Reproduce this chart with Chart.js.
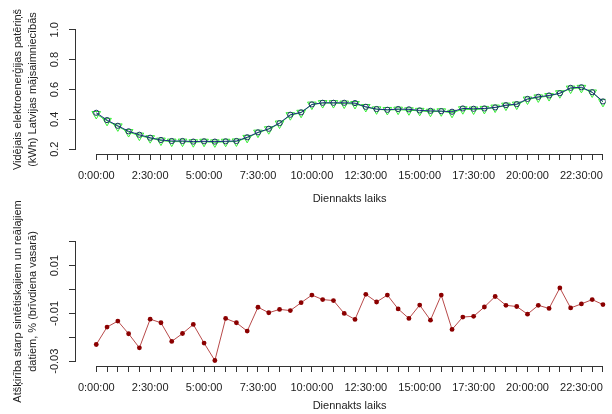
<!DOCTYPE html>
<html lang="lv">
<head>
<meta charset="utf-8">
<title>Elektroenerģijas patēriņš</title>
<script src="https://cdn.jsdelivr.net/npm/chart.js@4.4.1/dist/chart.umd.min.js"></script>
<style>
    html, body { margin: 0; padding: 0; background: #fff; }
    #wrap { position: relative; width: 612px; height: 414px; overflow: hidden; }
    canvas { position: absolute; left: 0; }
    #top-chart { top: 0; }
    #bottom-chart { top: 180px; }
</style>
</head>
<body>
<div id="wrap">
    <canvas id="top-chart" width="612" height="207"></canvas>
    <canvas id="bottom-chart" width="612" height="234"></canvas>
</div>
<script>
// Half-hour steps of the day
const times = [
    '0:00:00', '0:30:00', '1:00:00', '1:30:00', '2:00:00', '2:30:00',
    '3:00:00', '3:30:00', '4:00:00', '4:30:00', '5:00:00', '5:30:00',
    '6:00:00', '6:30:00', '7:00:00', '7:30:00', '8:00:00', '8:30:00',
    '9:00:00', '9:30:00', '10:00:00', '10:30:00', '11:00:00', '11:30:00',
    '12:00:00', '12:30:00', '13:00:00', '13:30:00', '14:00:00', '14:30:00',
    '15:00:00', '15:30:00', '16:00:00', '16:30:00', '17:00:00', '17:30:00',
    '18:00:00', '18:30:00', '19:00:00', '19:30:00', '20:00:00', '20:30:00',
    '21:00:00', '21:30:00', '22:00:00', '22:30:00', '23:00:00', '23:30:00'
];

// Real average consumption (kWh)
const realValues = [
    0.444, 0.395, 0.357, 0.320, 0.297, 0.277, 0.262, 0.255, 0.255, 0.251,
    0.253, 0.251, 0.253, 0.255, 0.280, 0.313, 0.337, 0.375, 0.431, 0.447,
    0.500, 0.511, 0.511, 0.511, 0.509, 0.484, 0.469, 0.464, 0.469, 0.467,
    0.460, 0.457, 0.455, 0.451, 0.473, 0.471, 0.473, 0.480, 0.495, 0.502,
    0.537, 0.551, 0.560, 0.575, 0.611, 0.615, 0.582, 0.520
];

// Synthetic average consumption (kWh)
const syntheticValues = [
    0.436, 0.390, 0.353, 0.315, 0.291, 0.274, 0.258, 0.251, 0.251, 0.247,
    0.250, 0.246, 0.250, 0.252, 0.276, 0.311, 0.334, 0.372, 0.428, 0.444,
    0.499, 0.509, 0.509, 0.506, 0.503, 0.483, 0.467, 0.463, 0.465, 0.461,
    0.457, 0.451, 0.454, 0.444, 0.468, 0.466, 0.470, 0.479, 0.492, 0.499,
    0.533, 0.547, 0.556, 0.575, 0.606, 0.611, 0.580, 0.517
];

// Difference between synthetic and real data
const diffValues = [
    -0.0230, -0.0157, -0.0132, -0.0185, -0.0244, -0.0124, -0.0139, -0.0217, -0.0184, -0.0146,
    -0.0224, -0.0297, -0.0121, -0.0139, -0.0174, -0.0074, -0.0097, -0.0083, -0.0088, -0.0055,
    -0.0023, -0.0042, -0.0046, -0.0100, -0.0125, -0.0020, -0.0052, -0.0023, -0.0081, -0.0121,
    -0.0065, -0.0128, -0.0023, -0.0167, -0.0115, -0.0112, -0.0073, -0.0029, -0.0066, -0.0071,
    -0.0103, -0.0066, -0.0079, 0.0007, -0.0077, -0.0060, -0.0042, -0.0063
];

// Axis ticks
const topTicks = [0.2, 0.4, 0.6, 0.8, 1.0];
const topTickLabels = ['0.2', '0.4', '0.6', '0.8', '1.0'];
const bottomTicks = [-0.03, -0.02, -0.01, 0, 0.01, 0.02];
const bottomTickLabels = ['-0.03', '', '-0.01', '', '0.01', ''];
const xTitle = 'Diennakts laiks';

const textColor = '#222';
const axisColor = '#333';
const fontFamily = "'Liberation Sans', Arial, sans-serif";
const font = { family: fontFamily, size: 11, lineHeight: 1.2 };
const titleFont = { family: fontFamily, size: 11, lineHeight: '15px' };

const toPoints = values => values.map((v, i) => ({ x: i, y: v }));

// R style axes: lines only from first to last tick, x title centred on the
// full plot region (which runs past the right edge of the picture)
const rAxes = {
    id: 'rAxes',
    afterDraw(chart) {
        const { ctx, chartArea, scales: { x, y } } = chart;
        const by = Math.round(chartArea.bottom) + 0.5;
        const lx = Math.round(chartArea.left) - 0.5;
        ctx.save();
        ctx.strokeStyle = axisColor;
        ctx.lineWidth = 1;
        ctx.beginPath();
        ctx.moveTo(x.getPixelForValue(x.ticks[0].value), by);
        ctx.lineTo(x.getPixelForValue(x.ticks[x.ticks.length - 1].value), by);
        ctx.moveTo(lx, y.getPixelForValue(y.ticks[0].value));
        ctx.lineTo(lx, y.getPixelForValue(y.ticks[y.ticks.length - 1].value));
        ctx.stroke();

        ctx.fillStyle = textColor;
        ctx.font = '11px ' + fontFamily;
        ctx.textAlign = 'center';
        ctx.textBaseline = 'middle';
        ctx.fillText(xTitle, x.getPixelForValue((times.length - 1) / 2), chart.height - 8);
        ctx.restore();
    }
};

function panelOptions(cfg) {
    return {
        responsive: false,
        animation: false,
        layout: { padding: { top: cfg.padTop, left: 0, right: 0, bottom: 0 } },
        plugins: { legend: { display: false }, tooltip: { enabled: false } },
        scales: {
            x: {
                type: 'linear',
                min: -1.88,
                max: 47.25,
                afterBuildTicks: axis => { axis.ticks = times.map((_, i) => ({ value: i })); },
                afterFit: axis => { axis.height = cfg.xHeight; },
                grid: { drawOnChartArea: false, tickLength: 6, color: axisColor },
                border: { display: false },
                ticks: {
                    autoSkip: false, minRotation: 0, maxRotation: 0, padding: 9,
                    color: textColor, font,
                    callback: v => (v % 5 === 0 ? times[v] : '')
                }
            },
            y: {
                min: cfg.yMin,
                max: cfg.yMax,
                afterBuildTicks: axis => { axis.ticks = cfg.ticks.map(v => ({ value: v })); },
                afterFit: axis => { axis.width = 76; },
                grid: { drawOnChartArea: false, tickLength: 7, color: axisColor },
                border: { display: false },
                ticks: {
                    autoSkip: false, minRotation: 90, maxRotation: 90, crossAlign: 'center',
                    padding: cfg.labelPad, color: textColor, font,
                    callback: (v, i) => cfg.tickLabels[i]
                },
                title: {
                    display: true, text: cfg.title, color: textColor, font: titleFont,
                    padding: { top: 10, bottom: 0 }
                }
            }
        }
    };
}

// Top panel: real vs synthetic consumption
new Chart(document.getElementById('top-chart'), {
    type: 'line',
    data: {
        datasets: [{
            label: 'Reālie dati',
            data: toPoints(realValues),
            borderColor: '#1c2a84',
            borderWidth: 1,
            tension: 0,
            pointStyle: 'circle',
            pointRadius: 2.6,
            pointBorderWidth: 1,
            pointBorderColor: '#1f2a6a',
            pointBackgroundColor: 'rgba(0,0,0,0)'
        }, {
            label: 'Sintētiskie dati',
            data: toPoints(syntheticValues),
            borderColor: '#33ee33',
            borderWidth: 1,
            tension: 0,
            pointStyle: 'triangle',
            pointRotation: 180,
            pointRadius: 5,
            pointBorderWidth: 1,
            pointBorderColor: '#33ee33',
            pointBackgroundColor: 'rgba(0,0,0,0)'
        }]
    },
    options: panelOptions({
        padTop: 25, xHeight: 53, yMin: 0.168, yMax: 1.032,
        ticks: topTicks, tickLabels: topTickLabels, labelPad: 6,
        title: ['Vidējais elektroenerģijas patēriņš', '(kWh) Latvijas mājsaimniecībās']
    }),
    plugins: [rAxes]
});

// Bottom panel: difference
new Chart(document.getElementById('bottom-chart'), {
    type: 'line',
    data: {
        datasets: [{
            label: 'Atšķirība',
            data: toPoints(diffValues),
            borderColor: '#b84a4a',
            borderWidth: 1,
            tension: 0,
            pointStyle: 'circle',
            pointRadius: 2.4,
            pointBorderWidth: 0,
            pointBackgroundColor: '#8b0000'
        }]
    },
    options: panelOptions({
        padTop: 57, xHeight: 48, yMin: -0.032, yMax: 0.022,
        ticks: bottomTicks, tickLabels: bottomTickLabels, labelPad: 1.5,
        title: ['Atšķirība starp sintētiskajiem un reālajiem', 'datiem, % (brīvdiena vasarā)']
    }),
    plugins: [rAxes]
});
</script>
</body>
</html>
